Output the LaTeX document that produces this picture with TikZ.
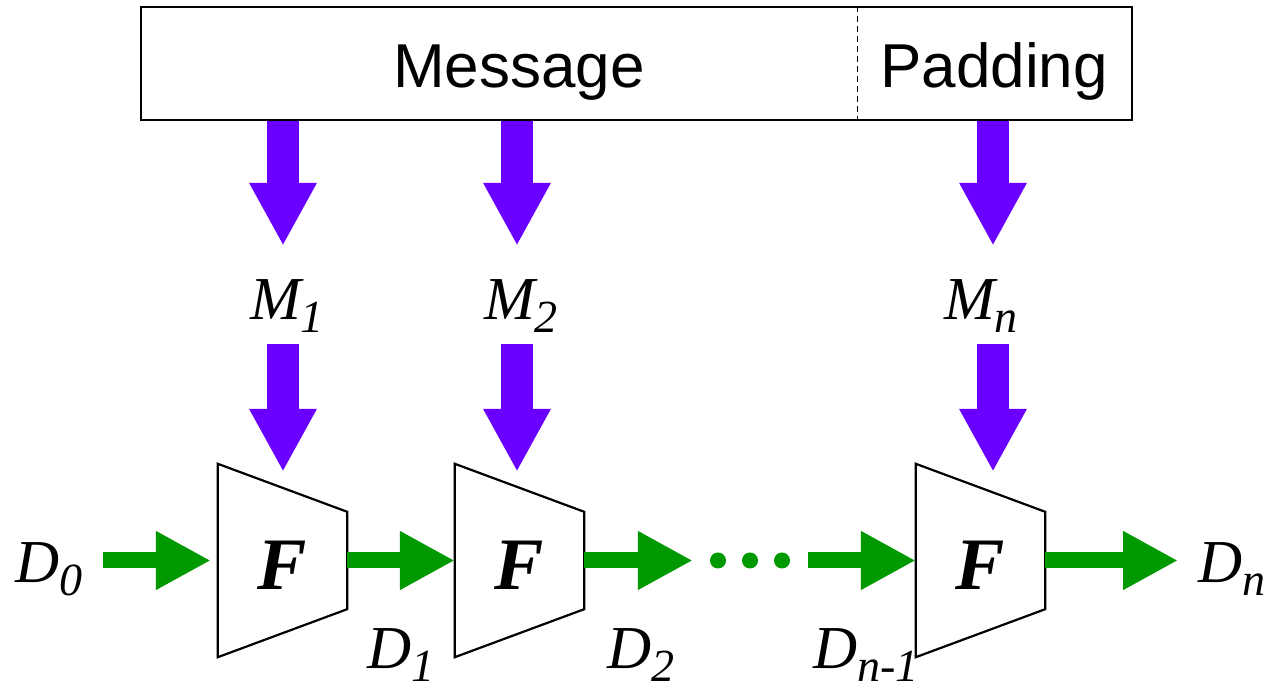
\documentclass[tikz,border=0pt]{standalone}
\usepackage{fontspec}
\setmainfont{Liberation Serif}
\newfontfamily\sansfont{Liberation Sans}
\usetikzlibrary{arrows.meta}
\definecolor{msgpurple}{HTML}{6A00FF}
\definecolor{chaingreen}{HTML}{009900}
\newcommand{\lbl}[2]{#1\raisebox{-13pt}{\fontsize{46}{50}\selectfont #2}}

\begin{document}
\begin{tikzpicture}[x=1pt,y=1pt,
	marrow/.style={msgpurple, line width=32pt, -{Triangle[length=63pt,width=63pt]}},
	darrow/.style={chaingreen, line width=16pt, -{Triangle[length=55pt,width=55pt]}},
	vlabel/.style={inner sep=0pt, font=\fontsize{61}{70}\selectfont\itshape, text height=41pt, text depth=14pt},
	fblock/.style={minimum width=129pt, minimum height=97pt, inner sep=0pt, text height=59pt, text depth=0pt,
		font=\fontsize{74}{80}\selectfont\bfseries\itshape}]
\useasboundingbox (0,0) rectangle (1270,691);

% message block on top
\node[draw, line width=2pt, minimum width=991pt, minimum height=113pt, inner sep=0pt] (msgbox) at (636.5,627.5) {};
\coordinate (split) at (857,0);
\draw[line width=1pt, dash pattern=on 6pt off 4pt] (msgbox.north -| split) -- (msgbox.south -| split);
\node[font=\sansfont\fontsize{62}{70}\selectfont, anchor=base] (message) at (519,603) {Message};
\node[font=\sansfont\fontsize{62}{70}\selectfont, anchor=base] (padding) at (994,603) {Padding};

% columns of the message blocks
\coordinate (col1) at (283,0);
\coordinate (col2) at (517,0);
\coordinate (col3) at (993,0);

\node[vlabel, anchor=base] (M1) at (287,371) {\lbl{M}{1}};
\node[vlabel, anchor=base] (M2) at (521,371) {\lbl{M}{2}};
\node[vlabel, anchor=base] (Mn) at (981,371) {\lbl{M}{n}};

% compression blocks
\node[fblock] (F1) at (282.5,130.5) {F};
\node[fblock] (F2) at (519.5,130.5) {F};
\node[fblock] (F3) at (980.5,130.5) {F};
\foreach \f in {F1,F2,F3}
	\draw[line width=2.2pt] ([yshift=48pt]\f.north west) -- (\f.north east) -- (\f.south east)
		-- ([yshift=-48pt]\f.south west) -- cycle;

\foreach \c/\m/\f in {col1/M1/F1, col2/M2/F2, col3/Mn/F3}{
	\draw[marrow, shorten >=33pt] (msgbox.south -| \c) -- (\c |- \m.north);
	\draw[marrow, shorten <=10pt, shorten >=40pt] (\c |- \m.south) -- (\c |- \f.north);
}

% chaining values
\node[vlabel, anchor=base west] (D0) at (15,108) {\lbl{D}{0}};
\node[vlabel, anchor=base west] (D1) at (367,22) {\lbl{D}{1}};
\node[vlabel, anchor=base west] (D2) at (607,22) {\lbl{D}{2}};
\node[vlabel, anchor=base west] (Dm) at (813,22) {\lbl{D}{n-1}};
\node[vlabel, anchor=base west] (Dn) at (1198,108) {\lbl{D}{n}};

\node[minimum width=80pt, inner sep=0pt] (dots) at (750,130.5) {};
\foreach \dx in {-32,0,32}
	\fill[chaingreen] ([xshift=\dx pt]dots.center) circle (8pt);

\draw[darrow, shorten <=21pt, shorten >=7pt] (D0.east |- F1.west) -- (F1.west);
\draw[darrow] (F1.east) -- (F2.west);
\draw[darrow, shorten >=17pt] (F2.east) -- (dots.west);
\draw[darrow, shorten <=18pt] (dots.east) -- (F3.west);
\draw[darrow, shorten >=20pt] (F3.east) -- (Dn.west |- F3.east);
\end{tikzpicture}
\end{document}
